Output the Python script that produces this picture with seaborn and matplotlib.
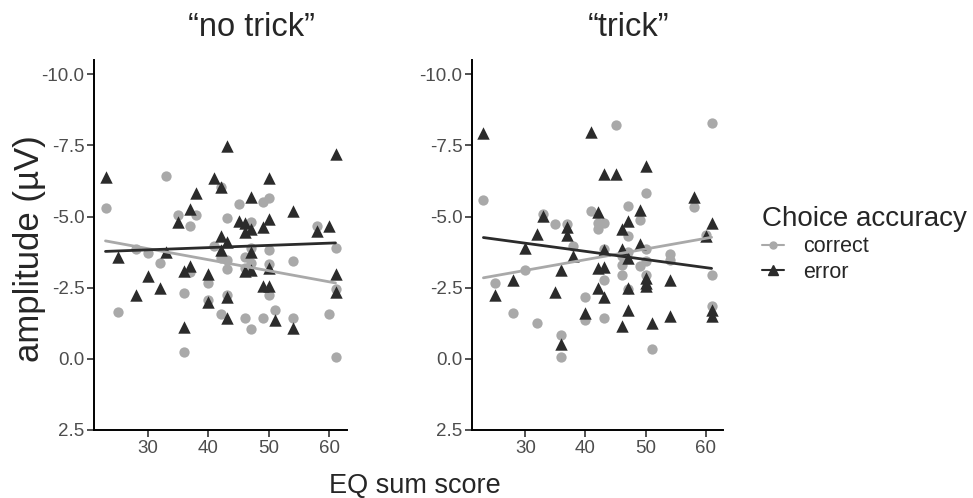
import pandas as pd
import matplotlib
matplotlib.use("Agg")
import matplotlib.pyplot as plt
import seaborn as sns
from matplotlib.lines import Line2D

# "no trick" condition
nt_correct_eq = [23, 25, 28, 30, 32, 33, 35, 36, 36, 37, 37, 38, 40, 40, 41, 42, 42, 42,
                 43, 43, 43, 43, 45, 46, 46, 46, 47, 47, 47, 47, 49, 49, 50, 50, 50, 50,
                 51, 54, 54, 58, 60, 61, 61, 61]
nt_correct_amp = [-5.31, -1.66, -3.86, -3.71, -3.36, -6.42, -5.05, -2.33, -0.23, -4.67, -3.06, -5.05,
                  -2.68, -2.05, -3.96, -6.05, -3.53, -1.58, -4.94, -3.47, -3.16, -2.25, -5.43, -3.59,
                  -3.18, -1.43, -4.82, -3.88, -3.36, -1.04, -5.5, -1.43, -5.64, -3.82, -3.33, -2.25,
                  -1.70, -3.43, -1.45, -4.67, -1.58, -3.91, -2.46, -0.05]
nt_error_eq = [23, 25, 28, 30, 32, 33, 35, 36, 36, 37, 37, 38, 40, 40, 41, 42, 42, 42,
               43, 43, 43, 43, 45, 46, 46, 46, 47, 47, 47, 47, 49, 49, 50, 50, 50, 50,
               51, 54, 54, 58, 60, 61, 61, 61]
nt_error_amp = [-6.4, -3.57, -2.25, -2.92, -2.5, -3.77, -4.8, -1.13, -3.09, -5.25, -3.27, -5.84,
                -2.97, -1.98, -6.36, -6.05, -4.33, -3.82, -7.47, -4.12, -2.19, -1.45, -4.84, -4.76,
                -4.47, -3.09, -5.7, -4.55, -3.77, -3.12, -4.64, -2.56, -6.34, -4.9, -3.18, -2.56,
                -1.37, -5.2, -1.1, -4.5, -4.67, -7.19, -2.97, -2.36]

# "trick" condition
t_correct_eq = [23, 25, 28, 30, 32, 33, 35, 36, 36, 37, 38, 40, 40, 41, 42, 42, 43, 43,
                43, 43, 45, 46, 46, 46, 47, 47, 47, 47, 49, 49, 50, 50, 50, 50, 51, 54,
                54, 58, 60, 61, 61, 61]
t_correct_amp = [-5.58, -2.68, -1.6, -3.12, -1.25, -5.09, -4.73, -0.84, -0.06, -4.73, -3.96, -2.16,
                 -1.35, -5.2, -4.78, -4.55, -4.78, -3.85, -2.78, -1.45, -8.23, -3.61, -3.29, -2.96,
                 -5.38, -4.32, -3.77, -2.44, -4.88, -3.26, -5.82, -3.86, -3.43, -2.95, -0.35, -3.68,
                 -3.47, -5.34, -4.35, -8.3, -2.95, -1.86]
t_error_eq = [23, 25, 28, 30, 32, 33, 35, 36, 36, 37, 37, 38, 40, 41, 42, 42, 42, 43,
              43, 43, 43, 45, 46, 46, 46, 47, 47, 47, 47, 49, 49, 50, 50, 50, 50, 51,
              54, 54, 58, 60, 61, 61, 61]
t_error_amp = [-7.94, -2.25, -2.78, -3.9, -4.39, -5.03, -2.34, -3.13, -0.53, -4.64, -4.35, -3.61,
               -1.6, -7.98, -3.18, -2.48, -5.17, -6.51, -3.82, -3.23, -2.19, -6.51, -4.55, -3.85,
               -1.17, -4.84, -3.53, -2.48, -1.7, -5.22, -4.02, -6.77, -2.83, -2.68, -2.56, -1.25,
               -2.78, -1.52, -5.7, -4.30, -4.78, -1.72, -1.52]

panel_titles = ["\u201cno trick\u201d", "\u201ctrick\u201d"]
x_ticks = [30, 40, 50, 60]
y_ticks = [-10.0, -7.5, -5.0, -2.5, 0.0, 2.5]

col_correct = "#a9a9a9"
col_error = "#2b2b2b"

sns.set_theme(style="white")
plt.rcParams["font.family"] = ["Liberation Sans", "DejaVu Sans"]

W, H = 973, 498
fig = plt.figure(figsize=(W / 100, H / 100), dpi=100)
ax1 = fig.add_axes([94 / W, 68 / H, 253 / W, 370 / H])
ax2 = fig.add_axes([472 / W, 68 / H, 251 / W, 370 / H])

panels = [
    (ax1, nt_correct_eq, nt_correct_amp, nt_error_eq, nt_error_amp),
    (ax2, t_correct_eq, t_correct_amp, t_error_eq, t_error_amp),
]

for ax, ceq, camp, eeq, eamp in panels:
    df_c = pd.DataFrame({"eq": ceq, "amp": camp})
    df_e = pd.DataFrame({"eq": eeq, "amp": eamp})
    sns.scatterplot(data=df_c, x="eq", y="amp", ax=ax, color=col_correct, marker="o",
                    s=55, linewidth=0, zorder=2)
    sns.scatterplot(data=df_e, x="eq", y="amp", ax=ax, color=col_error, marker="^",
                    s=80, linewidth=0, zorder=3)
    sns.regplot(data=df_c, x="eq", y="amp", ax=ax, scatter=False, ci=None,
                color=col_correct, line_kws={"lw": 2, "zorder": 4})
    sns.regplot(data=df_e, x="eq", y="amp", ax=ax, scatter=False, ci=None,
                color=col_error, line_kws={"lw": 2, "zorder": 4})
    ax.set_xlim(21.1, 62.9)
    ax.set_ylim(2.5, -10.5)
    ax.set_xticks(x_ticks)
    ax.set_yticks(y_ticks)
    ax.set_yticklabels([f"{v:.1f}" for v in y_ticks])
    ax.set_xlabel("")
    ax.set_ylabel("")
    for side in ["top", "right"]:
        ax.spines[side].set_visible(False)
    for side in ["left", "bottom"]:
        ax.spines[side].set_color("black")
        ax.spines[side].set_linewidth(1.4)
    ax.tick_params(axis="both", which="major", length=5, width=1.2, color="#333333",
                   labelsize=13.5, labelcolor="#4d4d4d", left=True, bottom=True, pad=2)

fig.text(251 / W, 1 - 36 / H, panel_titles[0], ha="center", va="baseline", fontsize=23.5)
fig.text(629 / W, 1 - 36 / H, panel_titles[1], ha="center", va="baseline", fontsize=23.5)
fig.text(30 / W, 1 - 249 / H, "amplitude (\u00b5V)", rotation=90, ha="center",
         va="center", fontsize=25)
fig.text(415 / W, 1 - 493 / H, "EQ sum score", ha="center", va="baseline", fontsize=19.5)

handles = [
    Line2D([], [], color=col_correct, marker="o", markersize=5, lw=1.5),
    Line2D([], [], color=col_error, marker="^", markersize=6.5, lw=1.5),
]
leg = fig.legend(handles, ["correct", "error"], title="Choice accuracy",
                 loc="upper left", bbox_to_anchor=(762 / W, 1 - 206 / H),
                 frameon=False, fontsize=15.5, title_fontsize=20, handlelength=1.0,
                 labelspacing=0.2, handletextpad=0.9, borderpad=0, borderaxespad=0,
                 alignment="left")

fig.savefig("out.png", dpi=100)
